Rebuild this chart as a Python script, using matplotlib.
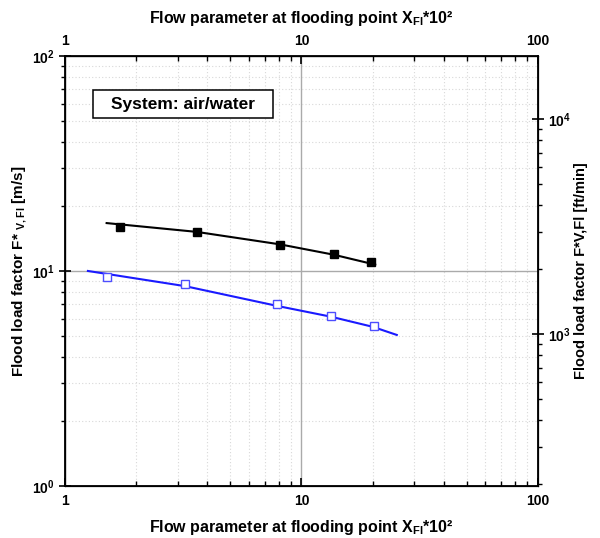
import matplotlib
matplotlib.use("Agg")
import math
import matplotlib.pyplot as plt
from matplotlib.patches import Rectangle
from matplotlib.ticker import LogLocator, FuncFormatter, NullFormatter

plt.rcParams['font.family'] = ['Liberation Sans', 'DejaVu Sans']
plt.rcParams['font.weight'] = 'bold'
plt.rcParams['mathtext.fontset'] = 'custom'
plt.rcParams['mathtext.rm'] = 'Liberation Sans:bold'
plt.rcParams['mathtext.bf'] = 'Liberation Sans:bold'
plt.rcParams['mathtext.it'] = 'Liberation Sans:bold'

# Data (flow parameter X_Fl*10^2, flood load factor m/s)
black_x = [1.71, 3.63, 8.13, 13.7, 19.7]
black_y = [16.0, 15.1, 13.2, 11.95, 11.0]
black_fit_x = [1.5, 3.6, 8.1, 13.7, 20.5]
black_fit_y = [16.7, 15.2, 13.3, 11.9, 10.7]

blue_x = [1.51, 3.22, 7.88, 13.3, 20.2]
blue_y = [9.35, 8.7, 7.0, 6.2, 5.55]
blue_fit_x = [1.25, 3.22, 7.88, 13.3, 20.0, 25.3]
blue_fit_y = [10.0, 8.5, 6.88, 6.13, 5.5, 5.04]

MS_TO_FTMIN = 196.85

fig = plt.figure(figsize=(6.0, 5.38), dpi=100)
ax = fig.add_axes([0.1083, 0.0967, 0.7883, 0.7993])
ax.set_xscale('log')
ax.set_yscale('log')
ax.set_xlim(1, 100)
ax.set_ylim(1, 100)

# grids
ax.grid(which='minor', linestyle=(0, (1, 2)), color='#d8d8d8', linewidth=0.8)
ax.grid(which='major', linestyle='-', color='#aaaaaa', linewidth=1.0)
ax.set_axisbelow(True)

ax.plot(black_fit_x, black_fit_y, color='black', linewidth=1.5, zorder=3)
ax.plot(black_x, black_y, linestyle='none', marker='s', markersize=5.4,
        color='black', zorder=4)
ax.plot(blue_fit_x, blue_fit_y, color='#1a1aff', linewidth=1.5, zorder=3)
ax.plot(blue_x, blue_y, linestyle='none', marker='s', markersize=5.4,
        markerfacecolor='white', markeredgecolor='#4d4dff', markeredgewidth=1.0, zorder=4)


def pow_fmt(v, pos):
    e = int(round(math.log10(v)))
    return r'$\mathbf{10^{%d}}$' % e


def plain_fmt(v, pos):
    return '%g' % v


ax.yaxis.set_major_locator(LogLocator(base=10))
ax.yaxis.set_major_formatter(FuncFormatter(pow_fmt))
ax.yaxis.set_minor_formatter(NullFormatter())
ax.xaxis.set_major_formatter(FuncFormatter(plain_fmt))
ax.xaxis.set_minor_formatter(NullFormatter())

ax.tick_params(axis='x', which='both', direction='in', top=False, labelsize=10, pad=6)
ax.tick_params(axis='x', which='major', length=6, width=1.2)
ax.tick_params(axis='x', which='minor', length=3.5, width=1)
ax.tick_params(axis='y', which='major', direction='inout', length=8, width=1.2, labelsize=10)
ax.tick_params(axis='y', which='minor', direction='out', length=3, width=1)

for s in ax.spines.values():
    s.set_linewidth(1.3)

xlabel_text = r'Flow parameter at flooding point X$_{\mathbf{Fl}}$*10²'

# top axis
axt = ax.twiny()
axt.set_xscale('log')
axt.set_xlim(1, 100)
axt.xaxis.set_major_formatter(FuncFormatter(plain_fmt))
axt.xaxis.set_minor_formatter(NullFormatter())
axt.tick_params(axis='x', which='both', direction='in', labelsize=10, pad=6)
axt.tick_params(axis='x', which='major', length=6, width=1.2)
axt.tick_params(axis='x', which='minor', length=3.5, width=1)
axt.set_xlabel(xlabel_text, fontsize=11.5, fontweight='bold', labelpad=8)

# right axis
axr = ax.twinx()
axr.set_yscale('log')
axr.set_ylim(1 * MS_TO_FTMIN, 100 * MS_TO_FTMIN)
axr.yaxis.set_major_formatter(FuncFormatter(pow_fmt))
axr.yaxis.set_minor_formatter(NullFormatter())
axr.tick_params(axis='y', which='major', direction='inout', length=8, width=1.2, labelsize=10)
axr.tick_params(axis='y', which='minor', direction='out', length=3, width=1)
axr.set_ylabel('Flood load factor F*V,Fl [ft/min]', fontsize=10.5, fontweight='bold')
axr.yaxis.set_label_coords(1.076, 0.5)

ax.set_xlabel(xlabel_text, fontsize=11.5, fontweight='bold', labelpad=7)
ax.set_ylabel(r'Flood load factor F* $_{\mathbf{V,Fl}}$ [m/s]', fontsize=11,
              fontweight='bold')
ax.yaxis.set_label_coords(-0.076, 0.5)

# annotation box
ax.add_patch(Rectangle((0.0592, 0.856), 0.3805, 0.065, transform=ax.transAxes,
                       facecolor='white', edgecolor='black', linewidth=1.1, zorder=6))
ax.text(0.2495, 0.888, 'System: air/water', transform=ax.transAxes,
        fontsize=12.5, fontweight='bold', ha='center', va='center', zorder=7)

fig.savefig('out.png', dpi=100)
